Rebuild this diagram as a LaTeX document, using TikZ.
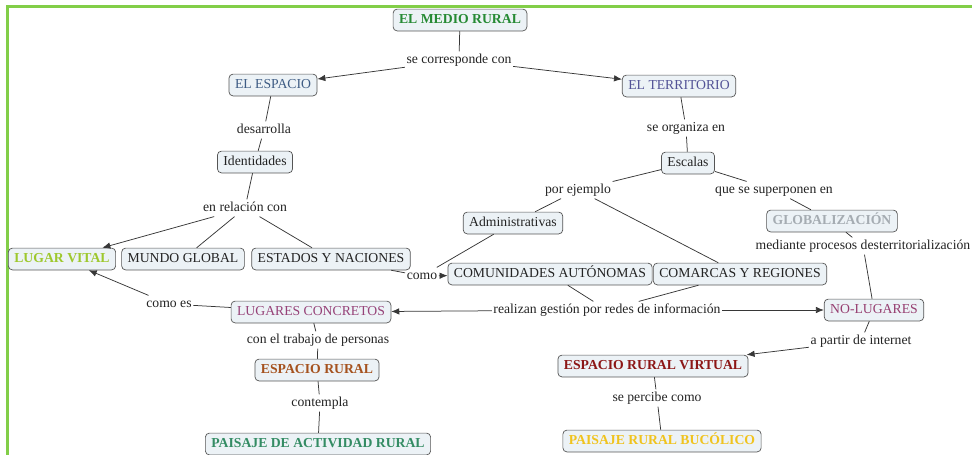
\documentclass[tikz,border=0pt]{standalone}
\usepackage{fontspec}
\setmainfont{Liberation Serif}
\usetikzlibrary{arrows.meta}

\definecolor{framegreen}{RGB}{130,206,72}
\definecolor{boxfill}{RGB}{236,242,246}
\definecolor{boxline}{RGB}{85,85,85}
\definecolor{linkc}{RGB}{55,55,55}
\definecolor{ink}{RGB}{35,35,35}
\definecolor{cGreen}{RGB}{38,138,52}
\definecolor{cSteel}{RGB}{62,92,132}
\definecolor{cSlate}{RGB}{82,82,150}
\definecolor{cLime}{RGB}{158,200,45}
\definecolor{cGray}{RGB}{165,172,178}
\definecolor{cPlum}{RGB}{150,62,112}
\definecolor{cMauve}{RGB}{150,66,120}
\definecolor{cBrown}{RGB}{165,82,30}
\definecolor{cTeal}{RGB}{52,140,100}
\definecolor{cDarkRed}{RGB}{140,22,22}
\definecolor{cGold}{RGB}{240,195,30}

\begin{document}
\begin{tikzpicture}[x=1pt,y=-1pt,
  basefont/.style={font=\fontsize{13.7}{16}\selectfont},
  concept/.style={basefont, draw=boxline, fill=boxfill, rounded corners=4pt,
    line width=0.7pt, inner xsep=6pt, inner ysep=4.5pt,
    text height=9.8pt, text depth=3pt, text=ink},
  strong/.style={font=\fontsize{13.7}{16}\selectfont\bfseries},
  phrase/.style={basefont, inner xsep=1.5pt, inner ysep=2pt,
    text height=9.8pt, text depth=3pt, text=ink},
  link/.style={draw=linkc, line width=0.75pt},
  lead/.style={link, -{Latex[length=8pt,width=6.5pt]}}
]
\useasboundingbox (0,0) rectangle (972,455);

% frame
\draw[framegreen, line width=3pt] (7,456) -- (7,6) -- (973,6);

% concepts and linking phrases
\node[concept, strong, text=cGreen] (medio) at (460,20) {EL MEDIO RURAL};
\node[phrase] (secorr) at (459,60) {se corresponde con};
\node[concept, text=cSteel] (espacio) at (273,85) {EL ESPACIO};
\node[concept, text=cSlate] (territorio) at (679,86) {EL TERRITORIO};
\node[phrase] (desa) at (264,130) {desarrolla};
\node[concept] (ident) at (255,162) {Identidades};
\node[phrase] (enrel) at (245,208) {en relación con};
\node[concept, strong, text=cLime] (vital) at (62,259) {LUGAR VITAL};
\node[concept] (mundo) at (183,259) {MUNDO GLOBAL};
\node[concept] (estados) at (331,259) {ESTADOS Y NACIONES};
\node[phrase] (como) at (422,276) {como};
\node[concept] (admin) at (513,223) {Administrativas};
\node[concept] (ccaa) at (550,274) {COMUNIDADES AUTÓNOMAS};
\node[concept] (comarcas) at (740,274) {COMARCAS Y REGIONES};
\node[phrase] (organiza) at (686,128) {se organiza en};
\node[concept] (escalas) at (688,163) {Escalas};
\node[phrase] (ejemplo) at (578,190) {por ejemplo};
\node[phrase] (superp) at (774,190) {que se superponen en};
\node[concept, strong, text=cGray] (glob) at (832,221) {GLOBALIZACIÓN};
\node[phrase] (mediante) at (863,246) {mediante procesos desterritorialización};
\node[concept, text=cPlum] (nolug) at (874,310) {NO-LUGARES};
\node[phrase] (redes) at (607,310) {realizan gestión por redes de información};
\node[concept, text=cMauve] (concretos) at (311,312) {LUGARES CONCRETOS};
\node[phrase] (comoes) at (169,304) {como es};
\node[phrase] (trabajo) at (318,340) {con el trabajo de personas};
\node[concept, strong, text=cBrown] (rural) at (317,370) {ESPACIO RURAL};
\node[phrase] (contempla) at (320,403) {contempla};
\node[concept, strong, text=cTeal] (actividad) at (318,444) {PAISAJE DE ACTIVIDAD RURAL};
\node[phrase] (internet) at (861,341) {a partir de internet};
\node[concept, strong, text=cDarkRed] (virtual) at (653,366) {ESPACIO RURAL VIRTUAL};
\node[phrase] (percibe) at (657,398) {se percibe como};
\node[concept, strong, text=cGold] (bucolico) at (662,441) {PAISAJE RURAL BUCÓLICO};

% connectors
\draw[link] (medio) -- (secorr);
\draw[lead] (secorr) -- (espacio);
\draw[lead] (secorr) -- (territorio);
\draw[link] (espacio) -- (desa);
\draw[link] (desa) -- (ident);
\draw[link] (ident) -- (enrel);
\draw[lead] (enrel) -- (vital);
\draw[link] (enrel) -- (mundo);
\draw[link] (enrel) -- (estados);
\draw[link] (estados) -- (como);
\draw[link] (admin) -- (como);
\draw[lead] (como) -- (ccaa);
\draw[link] (territorio) -- (organiza);
\draw[link] (organiza) -- (escalas);
\draw[link] (escalas) -- (ejemplo);
\draw[link] (ejemplo) -- (admin);
\draw[link] (ejemplo) -- (comarcas);
\draw[link] (escalas) -- (superp);
\draw[link] (superp) -- (glob);
\draw[link] (glob) -- (mediante);
\draw[link] (mediante) -- (nolug);
\draw[link] (ccaa) -- (redes);
\draw[link] (comarcas) -- (redes);
\draw[lead] (redes) -- (concretos);
\draw[lead] (redes) -- (nolug);
\draw[link] (concretos) -- (comoes);
\draw[lead] (comoes) -- (vital);
\draw[link] (concretos) -- (trabajo);
\draw[link] (trabajo) -- (rural);
\draw[link] (rural) -- (contempla);
\draw[link] (contempla) -- (actividad);
\draw[link] (nolug) -- (internet);
\draw[lead] (internet) -- (virtual);
\draw[link] (virtual) -- (percibe);
\draw[link] (percibe) -- (bucolico);
\end{tikzpicture}
\end{document}
